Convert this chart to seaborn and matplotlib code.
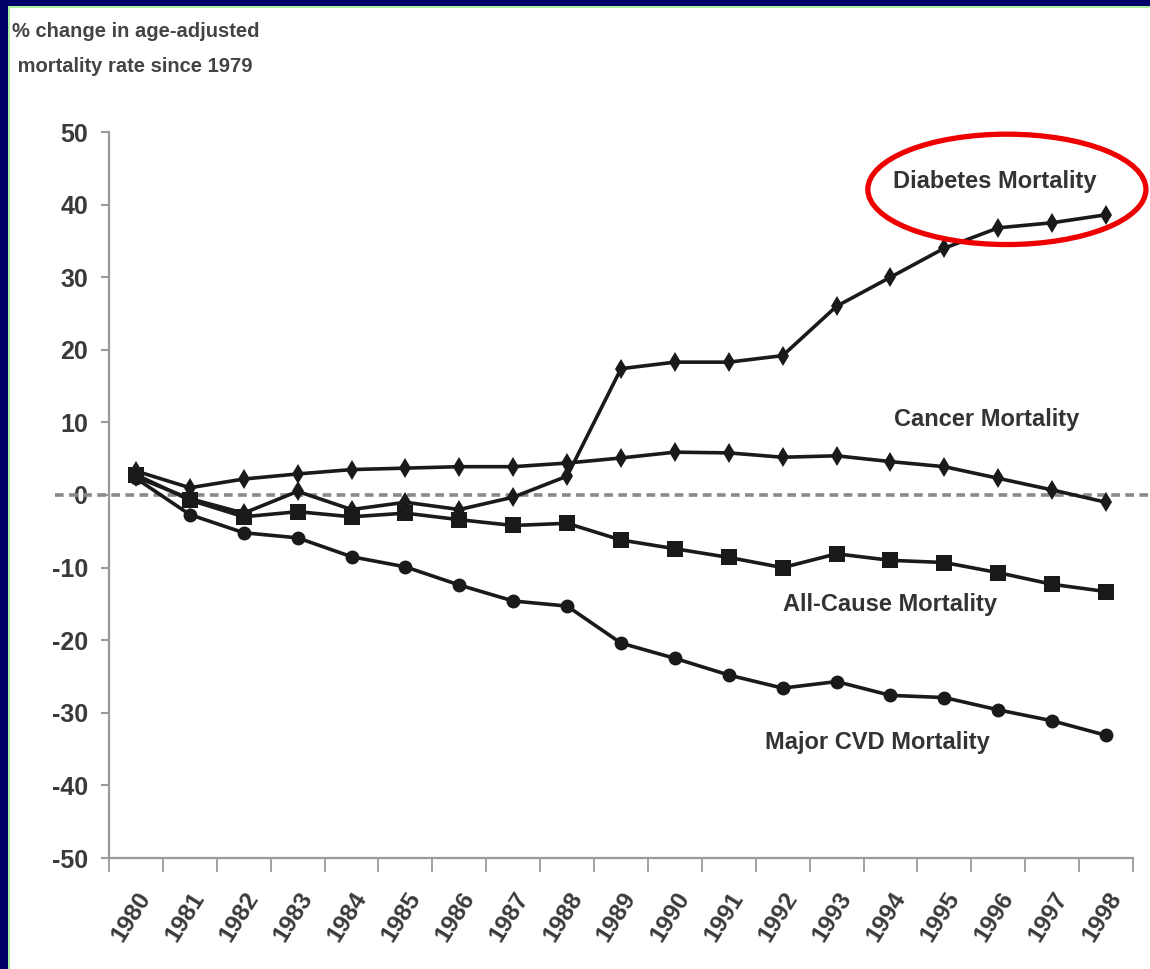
import pandas as pd
import matplotlib.pyplot as plt
import matplotlib.transforms as mtransforms
from matplotlib.patches import Ellipse, Rectangle
import seaborn as sns

sns.set_theme(style='white')
plt.rcParams['font.family'] = ['Liberation Sans Narrow', 'Liberation Sans', 'DejaVu Sans']
plt.rcParams['font.weight'] = 'bold'

# ── Data: % change in age-adjusted mortality rate since 1979 ──
years = list(range(1980, 1999))
diabetes = [2.5, -0.5, -2.5, 0.5, -2.0, -1.0, -2.0, -0.3, 2.6, 17.4, 18.3, 18.3, 19.2,
            26.0, 30.0, 34.0, 36.8, 37.5, 38.6]
cancer = [3.3, 1.0, 2.2, 2.9, 3.5, 3.7, 3.9, 3.9, 4.4, 5.1, 5.9, 5.8, 5.2,
          5.4, 4.6, 3.9, 2.3, 0.7, -1.0]
all_cause = [2.8, -0.7, -3.0, -2.3, -3.0, -2.5, -3.4, -4.2, -3.9, -6.2, -7.4, -8.6, -10.0,
             -8.1, -9.0, -9.3, -10.7, -12.3, -13.3]
cvd = [2.3, -2.7, -5.2, -5.9, -8.5, -9.9, -12.4, -14.6, -15.3, -20.4, -22.5, -24.8, -26.6,
       -25.7, -27.6, -27.9, -29.6, -31.1, -33.1]

series_names = ['Diabetes Mortality', 'Cancer Mortality', 'All-Cause Mortality', 'Major CVD Mortality']
series_values = [diabetes, cancer, all_cause, cvd]

df = pd.concat([pd.DataFrame({'year': years, 'value': v, 'series': n})
                for n, v in zip(series_names, series_values)], ignore_index=True)

fig = plt.figure(figsize=(11.5, 9.69), dpi=100, facecolor='white')
ax = fig.add_axes([109 / 1150, 1 - 858 / 969, 1024 / 1150, 726 / 969])
ax.set_facecolor('white')

# zero reference line (dashed, runs past the axis on both sides)
ax.plot([-0.053, 1.02], [0, 0], transform=ax.get_yaxis_transform(), clip_on=False,
        color='#8a8a8a', lw=2.6, ls=(0, (2.4, 1.5)), zorder=1)

markers = {'Diabetes Mortality': 'd', 'Cancer Mortality': 'd',
           'All-Cause Mortality': 's', 'Major CVD Mortality': 'o'}
sns.lineplot(data=df, x='year', y='value', hue='series', style='series',
             palette=['#1a1a1a'] * 4, markers=markers, dashes=False,
             markersize=10, markeredgewidth=0, lw=2.6, legend=False, ax=ax, zorder=3)
for line in ax.lines[1:]:
    if line.get_marker() == 's':
        line.set_markersize(11)
    elif line.get_marker() == 'o':
        line.set_markersize(10)

ax.set_xlim(1979.5, 1998.5)
ax.set_ylim(-50, 50)
ax.set_xlabel('')
ax.set_ylabel('')

for side in ['top', 'right']:
    ax.spines[side].set_visible(False)
for side in ['left', 'bottom']:
    ax.spines[side].set_color('#9a9a9a')
    ax.spines[side].set_linewidth(1.6)

ax.set_yticks(range(-50, 51, 10))
ax.set_yticklabels([str(v) for v in range(-50, 51, 10)])
ax.tick_params(axis='y', direction='out', length=6, width=1.5, color='#9a9a9a',
               pad=9, labelsize=18, labelcolor='#3a3a3a', left=True)

ax.set_xticks(years)
ax.set_xticks([y - 0.5 for y in years] + [1998.5], minor=True)
ax.set_xticklabels([str(y) for y in years], rotation=58, ha='right', va='center',
                   rotation_mode='anchor')
ax.tick_params(axis='x', which='major', length=0, pad=26, labelsize=17.5, labelcolor='#3a3a3a')
ax.tick_params(axis='x', which='minor', direction='out', length=10, width=1.3,
               color='#9a9a9a', bottom=True)
offset = mtransforms.ScaledTranslation(0.10, 0, fig.dpi_scale_trans)
for lab in ax.get_xticklabels():
    lab.set_transform(lab.get_transform() + offset)

# series labels
label_pos = {'Diabetes Mortality': (1995.94, 43.2), 'Cancer Mortality': (1995.79, 10.4),
             'All-Cause Mortality': (1993.99, -15.1), 'Major CVD Mortality': (1993.75, -34.1)}
for name, (lx, ly) in label_pos.items():
    ax.text(lx, ly, name, ha='center', va='center', fontsize=17,
            fontweight='bold', color='#333333')

ax.add_patch(Ellipse((1996.16, 42.1), 5.16, 15.2, fill=False, edgecolor='#ee0000',
                     lw=3.8, clip_on=False, zorder=5))

fig.text(12 / 1150, 1 - 22 / 969, '% change in age-adjusted\n mortality rate since 1979',
         ha='left', va='top', fontsize=14.5, fontweight='bold', color='#444444', linespacing=2.1)

# slide frame: navy strip on the left and top with a thin green edge
fig.patches.append(Rectangle((0, 0), 8 / 1150, 1, transform=fig.transFigure,
                             facecolor='#000066', edgecolor='none', zorder=0))
fig.patches.append(Rectangle((0, 1 - 6 / 969), 1, 6 / 969, transform=fig.transFigure,
                             facecolor='#000066', edgecolor='none', zorder=0))
fig.patches.append(Rectangle((8 / 1150, 0), 2 / 1150, 1 - 6 / 969, transform=fig.transFigure,
                             facecolor='#a8f0a0', edgecolor='none', zorder=0))
fig.patches.append(Rectangle((8 / 1150, 1 - 8 / 969), 1, 2 / 969, transform=fig.transFigure,
                             facecolor='#a8f0a0', edgecolor='none', zorder=0))

plt.savefig('out.png', dpi=100, facecolor='white')
plt.close(fig)
